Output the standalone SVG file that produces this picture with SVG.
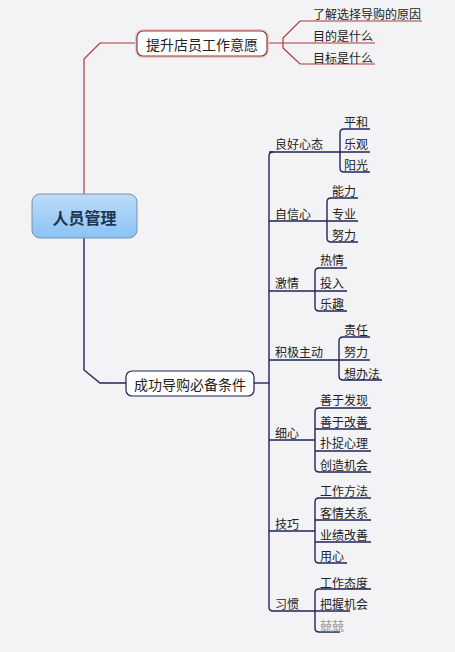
<svg xmlns="http://www.w3.org/2000/svg" width="455" height="652" viewBox="0 0 455 652">
<style>
text{font-family:"Noto Sans CJK SC","Liberation Sans",sans-serif;fill:#222;dominant-baseline:central}
.leaf{font-size:12px}
.br{font-size:12px}
.mid{font-size:14px}
.nv{fill:none;stroke:#23235f;stroke-width:1.4}
.rd{fill:none;stroke:#a83a3a;stroke-width:1.2}
</style>
<defs>
<linearGradient id="rg" x1="0" y1="0" x2="0" y2="1">
<stop offset="0" stop-color="#bcdcf8"/>
<stop offset="1" stop-color="#8ac2f6"/>
</linearGradient>
</defs>
<rect width="455" height="652" fill="#f3f3f5"/>
<g id="connectors">
<path class="rd" d="M84,194 V59 L100,43 H137"/>
<path class="rd" d="M267,43 H283 M313,21 H300 L283,38 V48 L300,64 H375 M283,43 H375 M300,21 H422"/>
<path class="nv" d="M84,238 V370 L100,383 H126"/>
<path class="nv" d="M254,383 H269"/>
<path class="nv" d="M273,152 Q269,152 269,156 V607 Q269,611 273,611 H315"/>
<path class="nv" d="M269,152 H340 M370,129 H344 Q340,129 340,133 V168 Q340,172 344,172 H370 M340,152 H370"/>
<path class="nv" d="M269,221 H327 M358,198 H331 Q327,198 327,202 V238 Q327,242 331,242 H358 M327,221 H358"/>
<path class="nv" d="M269,291 H315 M347,268 H319 Q315,268 315,272 V307 Q315,311 319,311 H347 M315,291 H347"/>
<path class="nv" d="M269,360 H339 M370,337 H343 Q339,337 339,341 V376 Q339,380 343,380 H382 M339,360 H370"/>
<path class="nv" d="M269,440 H315 M371,408 H319 Q315,408 315,412 V468 Q315,472 319,472 H371 M315,429 H371 M315,451 H371"/>
<path class="nv" d="M269,531 H315 M371,498 H319 Q315,498 315,502 V559 Q315,563 319,563 H347 M315,520 H371 M315,542 H371"/>
<path class="nv" d="M371,589 H319 Q315,589 315,593 V628 Q315,632 319,632 H340 M315,611 H350"/>
</g>
<g id="root">
<rect x="32" y="194" width="105" height="44" rx="8" fill="url(#rg)" stroke="#7892ae" stroke-width="1"/>
<text x="84.5" y="216.5" text-anchor="middle" style="font-size:16px;font-weight:bold;fill:#1f3550">人员管理</text>
</g>
<g id="n-tisheng">
<rect x="137" y="31" width="130" height="25" rx="6" fill="#fff" stroke="#f0c8c8" stroke-width="4"/>
<rect x="137" y="31" width="130" height="25" rx="6" fill="#fff" stroke="#8b3d3d" stroke-width="1.2"/>
<text class="mid" x="202" y="43.5" text-anchor="middle">提升店员工作意愿</text>
</g>
<g id="t1"><text class="leaf" x="313" y="13">了解选择导购的原因</text></g>
<g id="t2"><text class="leaf" x="313" y="35">目的是什么</text></g>
<g id="t3"><text class="leaf" x="313" y="57">目标是什么</text></g>
<g id="n-chenggong">
<rect x="126" y="371" width="128" height="25" rx="6" fill="#fff" stroke="#1e1e5a" stroke-width="1.2"/>
<text class="mid" x="190" y="383.5" text-anchor="middle">成功导购必备条件</text>
</g>
<g id="b1"><text class="br" x="275" y="143">良好心态</text></g>
<g id="b1a"><text class="leaf" x="344" y="121">平和</text></g>
<g id="b1b"><text class="leaf" x="344" y="143">乐观</text></g>
<g id="b1c"><text class="leaf" x="344" y="164">阳光</text></g>
<g id="b2"><text class="br" x="275" y="213">自信心</text></g>
<g id="b2a"><text class="leaf" x="332" y="190">能力</text></g>
<g id="b2b"><text class="leaf" x="332" y="213">专业</text></g>
<g id="b2c"><text class="leaf" x="332" y="234">努力</text></g>
<g id="b3"><text class="br" x="275" y="282">激情</text></g>
<g id="b3a"><text class="leaf" x="320" y="259">热情</text></g>
<g id="b3b"><text class="leaf" x="320" y="282">投入</text></g>
<g id="b3c"><text class="leaf" x="320" y="303">乐趣</text></g>
<g id="b4"><text class="br" x="275" y="351">积极主动</text></g>
<g id="b4a"><text class="leaf" x="344" y="329">责任</text></g>
<g id="b4b"><text class="leaf" x="344" y="351">努力</text></g>
<g id="b4c"><text class="leaf" x="344" y="373">想办法</text></g>
<g id="b5"><text class="br" x="275" y="432">细心</text></g>
<g id="b5a"><text class="leaf" x="320" y="399">善于发现</text></g>
<g id="b5b"><text class="leaf" x="320" y="421">善于改善</text></g>
<g id="b5c"><text class="leaf" x="320" y="442">扑捉心理</text></g>
<g id="b5d"><text class="leaf" x="320" y="464">创造机会</text></g>
<g id="b6"><text class="br" x="275" y="523">技巧</text></g>
<g id="b6a"><text class="leaf" x="320" y="490">工作方法</text></g>
<g id="b6b"><text class="leaf" x="320" y="512">客情关系</text></g>
<g id="b6c"><text class="leaf" x="320" y="534">业绩改善</text></g>
<g id="b6d"><text class="leaf" x="320" y="555">用心</text></g>
<g id="b7"><text class="br" x="275" y="603">习惯</text></g>
<g id="b7a"><text class="leaf" x="320" y="582">工作态度</text></g>
<g id="b7b"><text class="leaf" x="320" y="603">把握机会</text></g>
<g id="b7c"><text class="leaf" x="320" y="625" style="fill:#999">兢兢</text></g>
</svg>
